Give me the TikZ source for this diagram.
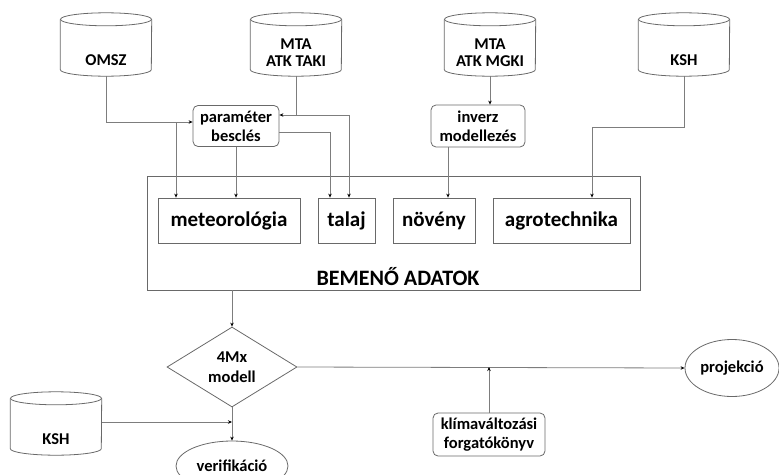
\documentclass[tikz,border=0pt]{standalone}
\usepackage{fontspec}
\setmainfont{Carlito}
\usetikzlibrary{shapes.geometric,arrows.meta}
\definecolor{edgegray}{RGB}{125,125,125}
\definecolor{boxgray}{RGB}{105,105,105}
\begin{document}
\begin{tikzpicture}[
    x=1pt, y=-1pt,
    db/.style={minimum width=91pt, minimum height=63pt, inner sep=0pt},
    dbtext/.style={font=\bfseries\fontsize{16.5}{17}\selectfont, align=center},
    proc/.style={draw=boxgray, thick, rounded corners=5pt, align=center, inner sep=0pt, font=\bfseries\fontsize{16.5}{19}\selectfont},
    data/.style={draw=boxgray, thick, inner sep=0pt, minimum height=45pt, font=\bfseries\fontsize{21}{21}\selectfont},
    outcome/.style={draw=boxgray, thick, ellipse, inner sep=0pt, font=\bfseries\fontsize{16.5}{17}\selectfont},
    arrow/.style={draw=edgegray, thick, -{Stealth[length=4pt, width=3.5pt, black]}},
    line/.style={draw=edgegray, thick}
]
    \useasboundingbox (0,0) rectangle (779,474);

    % Sources
    \node[db] (omsz) at (106,44.5) {};
    \node[db] (taki) at (296,44.5) {};
    \node[db] (mgki) at (490,44.5) {};
    \node[db] (ksh) at (684,44.5) {};
    \node[db] (kshlow) at (56,423.5) {};
    \foreach \n in {omsz,taki,mgki,ksh,kshlow}{
        \draw[boxgray, thick] ([yshift=-6.5pt]\n.north west) -- ([yshift=6.5pt]\n.south west)
            arc[start angle=180, end angle=360, x radius=45.5pt, y radius=6.5pt]
            -- ([yshift=-6.5pt]\n.north east);
        \draw[boxgray, thick] ([yshift=-6.5pt]\n.north) ellipse[x radius=45.5pt, y radius=6.5pt];
    }
    \node[dbtext] (omszt) at (106,60) {OMSZ};
    \node[dbtext] (takit) at (296,52.5) {MTA\\ATK TAKI};
    \node[dbtext] (mgkit) at (490,52.5) {MTA\\ATK MGKI};
    \node[dbtext] (ksht) at (684,60) {KSH};
    \node[dbtext] (kshlowt) at (56,439) {KSH};

    % Preprocessing
    \node[proc, minimum width=86pt, minimum height=41pt] (param) at (236,126) {param\'eter\\bescl\'es};
    \node[proc, minimum width=94pt, minimum height=42pt] (inverz) at (478,126) {inverz\\modellez\'es};

    % Input data
    \node[draw=boxgray, thick, minimum width=493pt, minimum height=114pt] (input) at (393.5,233) {};
    \node[data, minimum width=142pt] (met) at (229,220.5) {meteorol\'ogia};
    \node[data, minimum width=57pt] (talaj) at (346.5,220.5) {talaj};
    \node[data, minimum width=82pt] (noveny) at (434,220.5) {n\"ov\'eny};
    \node[data, minimum width=137pt] (agro) at (561.5,220.5) {agrotechnika};
    \node[font=\bfseries\fontsize{22}{22}\selectfont] (inputlbl) at (398,277) {BEMEN\H{O} ADATOK};

    % Model and outputs
    \node[draw=boxgray, thick, diamond, minimum width=130pt, minimum height=80pt, inner sep=0pt, align=center, font=\bfseries\fontsize{16.5}{20}\selectfont] (model) at (232,367) {4Mx\\modell};
    \node[outcome, minimum width=94pt, minimum height=57pt] (proj) at (732,368) {projekci\'o};
    \node[outcome, minimum width=112pt, minimum height=50pt] (verif) at (232,466) {verifik\'aci\'o};
    \node[proc, minimum width=112pt, minimum height=43pt] (klima) at (489,434.5) {kl\'imav\'altoz\'asi\\forgat\'ok\"onyv};

    % Junctions
    \coordinate (omszjoin) at (176,122);
    \coordinate (takijoin) at (349,115);

    % Source arrows
    \draw[arrow] (omsz.south) |- ([yshift=4]param.west);
    \draw[arrow] (omszjoin) -- (omszjoin |- met.north);
    \draw[arrow] (param.south) -- (param.south |- met.north);
    \draw[arrow] ([yshift=-6]param.east) -| ([xshift=-16.5]talaj.north);
    \draw[arrow] (taki.south) |- ([yshift=11]param.east);
    \draw[arrow] (taki.south) |- (takijoin) -- (takijoin |- talaj.north);
    \draw[arrow] (mgki.south) -- (mgki.south |- inverz.north);
    \draw[arrow] ([xshift=-30]inverz.south) -- ([xshift=-30]inverz.south |- noveny.north);
    \draw[arrow] (ksh.south) -- ++(0,51) -| ([xshift=30.5]agro.north);

    % Model arrows
    \draw[arrow] (model.north |- input.south) -- (model.north);
    \draw[arrow] (model.east) -- (proj.west);
    \draw[arrow] (klima.north) -- (klima.north |- model.east);
    \draw[arrow] (kshlow.east |- 0,422) -- (model.south |- 0,422);
    \draw[arrow] (model.south) -- (verif.north);

\end{tikzpicture}
\end{document}
